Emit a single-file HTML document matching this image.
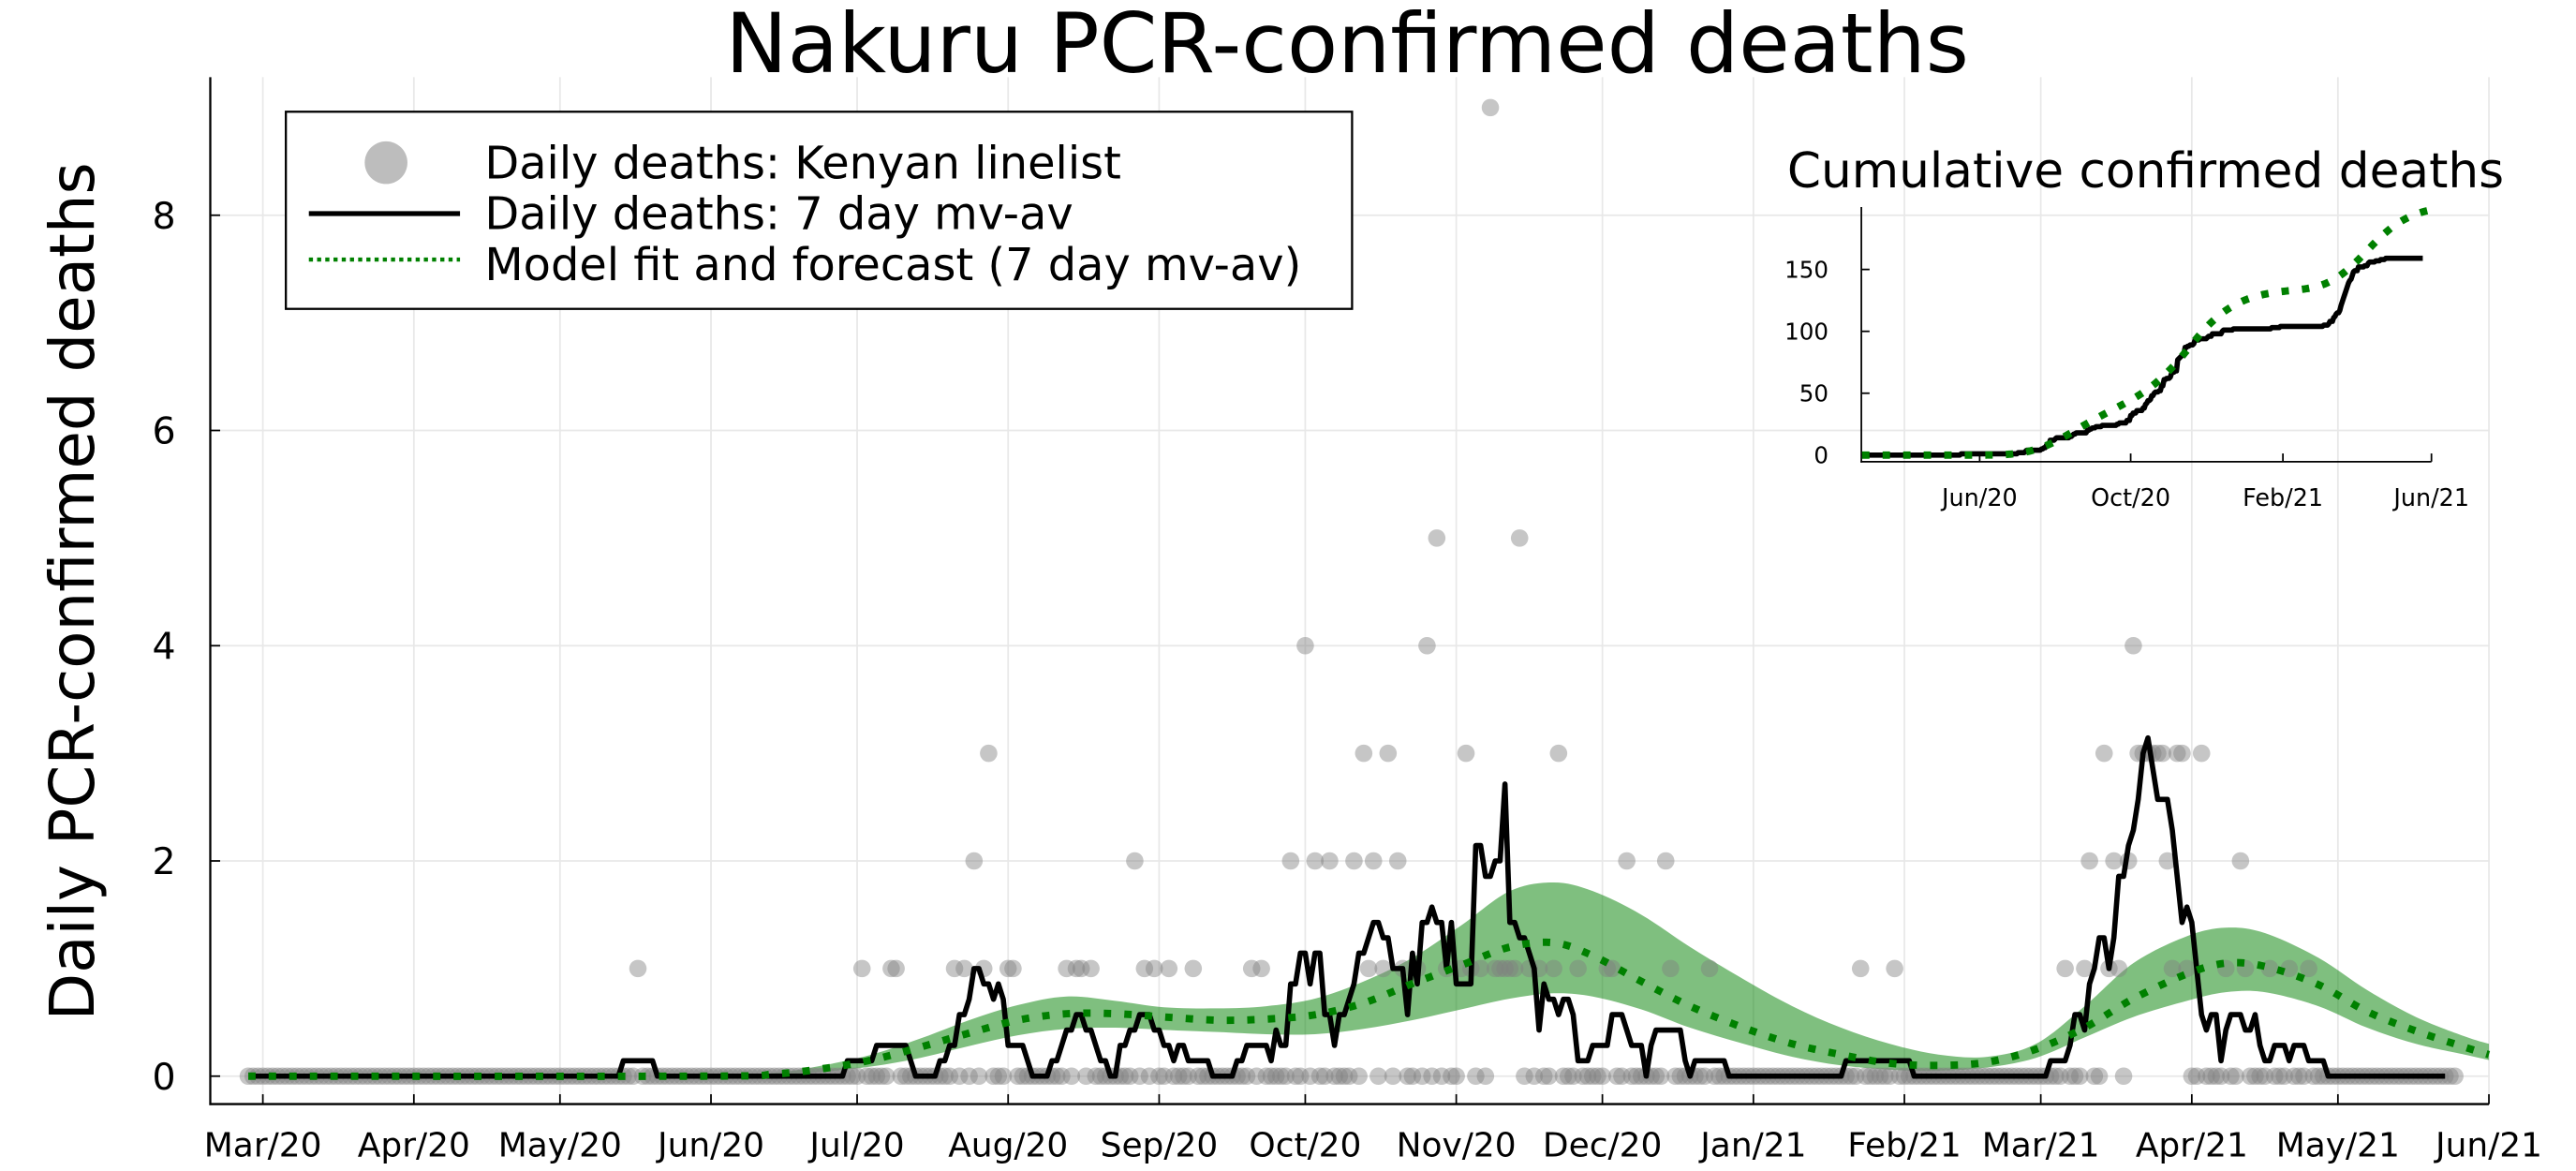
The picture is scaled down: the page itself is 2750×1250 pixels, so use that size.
<!DOCTYPE html>
<html><head><meta charset="utf-8">
<style>
html,body{margin:0;padding:0;background:#fff;}
svg{display:block;font-family:"DejaVu Sans","Liberation Sans",sans-serif;}
</style></head>
<body>
<svg id="chart" width="2750" height="1250" viewBox="0 0 1568 712.73" xmlns="http://www.w3.org/2000/svg">
<rect x="0" y="0" width="1568" height="712.73" fill="#fff"/>
<text x="820" y="44" font-size="50.5" text-anchor="middle">Nakuru PCR-confirmed deaths</text>
<text transform="translate(57,360) rotate(-90)" font-size="37.5" text-anchor="middle">Daily PCR-confirmed deaths</text>
<g id="grid"></g>
<g id="band"></g>
<g id="dots"></g>
<g id="lines"></g>
<g id="axes"></g>
<g id="legend">
  <rect x="174" y="68" width="649" height="120" fill="#fff" stroke="#000" stroke-width="1.3"/>
  <circle cx="235" cy="99" r="13" fill="#bdbdbd"/>
  <text x="295" y="108.5" font-size="27.3">Daily deaths: Kenyan linelist</text>
  <line x1="188" y1="130" x2="280" y2="130" stroke="#000" stroke-width="3"/>
  <text x="295" y="139.5" font-size="27.3">Daily deaths: 7 day mv-av</text>
  <line x1="188" y1="158" x2="280" y2="158" stroke="#008000" stroke-width="2.5" stroke-dasharray="2.5 2.5"/>
  <text x="295" y="170.5" font-size="27.3">Model fit and forecast (7 day mv-av)</text>
</g>
<g id="inset">
  <text x="1306" y="114" font-size="29.5" text-anchor="middle">Cumulative confirmed deaths</text>
</g>
</svg>
<script>
// ---- data (day offsets from 1 Mar 2020) ----
const monthDays = [0,31,61,92,122,153,184,214,245,275,306,337,365,396,426,457];
const monthLabels = ["Mar/20","Apr/20","May/20","Jun/20","Jul/20","Aug/20","Sep/20","Oct/20","Nov/20","Dec/20","Jan/21","Feb/21","Mar/21","Apr/21","May/21","Jun/21"];
const yTicks = [0,2,4,6,8];
const firstDay = -3;
const lastDay = 450;
const nzDays = [77,123,129,130,142,144,146,148,149,153,154,165,167,168,170,179,181,183,186,191,203,205,211,214,216,219,224,226,227,228,230,231,233,234,237,239,241,243,246,247,248,250,252,253,254,255,256,257,258,260,262,265,266,270,276,277,280,288,289,297,328,335,370,374,375,378,379,380,381,383,384,385,386,387,388,389,390,391,392,393,394,395,398,403,406,407,412,416,420];
const nzVals = [1,1,1,1,1,1,2,1,3,1,1,1,1,1,1,2,1,1,1,1,1,1,2,4,2,2,2,3,1,2,1,3,2,1,1,4,5,1,1,3,1,1,9,1,1,1,1,1,5,1,1,1,3,1,1,1,2,2,1,1,1,1,1,1,2,3,1,2,1,2,4,3,3,3,3,3,3,2,1,3,3,1,3,1,2,1,1,1,1];
const modelDays = [-3,90,105,115,125,135,145,155,165,175,185,196,206,216,226,236,246,256,265,273,283,293,304,314,324,334,344,354,364,374,384,395,403,411,422,432,442,452,457];
const modelMean = [0,0,0.02,0.07,0.15,0.27,0.4,0.52,0.58,0.58,0.55,0.52,0.53,0.57,0.68,0.86,1.03,1.2,1.24,1.12,0.88,0.65,0.45,0.3,0.2,0.12,0.1,0.13,0.25,0.45,0.72,0.95,1.05,1.02,0.85,0.6,0.42,0.27,0.2];
const modelHi = [0,0,0.03,0.1,0.2,0.35,0.52,0.66,0.74,0.7,0.64,0.63,0.65,0.72,0.88,1.1,1.4,1.72,1.8,1.72,1.5,1.2,0.9,0.65,0.45,0.3,0.2,0.18,0.3,0.65,1.05,1.3,1.38,1.33,1.1,0.8,0.55,0.37,0.3];
const modelLo = [0,0,0.01,0.04,0.09,0.17,0.28,0.38,0.44,0.45,0.43,0.41,0.39,0.39,0.44,0.52,0.62,0.72,0.77,0.74,0.62,0.45,0.3,0.18,0.1,0.06,0.05,0.08,0.17,0.36,0.55,0.7,0.78,0.78,0.65,0.45,0.3,0.2,0.15];
const insetYTicks = [0,50,100,150];
const insetXDays = [92,214,337,457];
const insetXLabels = ["Jun/20","Oct/20","Feb/21","Jun/21"];

// ---- axis functions ----
const NS = "http://www.w3.org/2000/svg";
const X0 = 160, XPD = (1515-160)/457;
const Y0 = 655, YPU = 65.5;
const xs = d => X0 + d*XPD;
const ys = v => Y0 - v*YPU;
const IX0 = 1135.7, IXPD = (1480-1205)/365;
const IY0 = 277, IYPU = (277-164)/150;
const ixs = d => IX0 + d*IXPD;
const iys = v => IY0 - v*IYPU;

function mk(tag, attrs, parent){
  const e = document.createElementNS(NS, tag);
  for (const k in attrs) e.setAttribute(k, attrs[k]);
  parent.appendChild(e);
  return e;
}
function smoothPath(pts){
  let d = "M"+pts[0][0].toFixed(2)+","+pts[0][1].toFixed(2);
  for (let i=0;i<pts.length-1;i++){
    const p0=pts[Math.max(0,i-1)], p1=pts[i], p2=pts[i+1], p3=pts[Math.min(pts.length-1,i+2)];
    const c1=[p1[0]+(p2[0]-p0[0])/6, p1[1]+(p2[1]-p0[1])/6];
    const c2=[p2[0]-(p3[0]-p1[0])/6, p2[1]-(p3[1]-p1[1])/6];
    d += "C"+c1[0].toFixed(2)+","+c1[1].toFixed(2)+" "+c2[0].toFixed(2)+","+c2[1].toFixed(2)+" "+p2[0].toFixed(2)+","+p2[1].toFixed(2);
  }
  return d;
}

// daily series
const daily = {};
for (let d=firstDay; d<=lastDay; d++) daily[d]=0;
nzDays.forEach((d,i)=>{ daily[d]=nzVals[i]; });
const mvDays=[], mvVals=[];
for (let d=firstDay+1; d<=lastDay-2; d++){
  let s=0; for (let k=-3;k<=3;k++) s += (daily[d+k]||0);
  mvDays.push(d); mvVals.push(s/7);
}
const cumDays=[], cumVals=[]; let acc=0;
for (let d=firstDay; d<=lastDay; d++){ acc+=daily[d]; cumDays.push(d); cumVals.push(acc); }
function interp(arrX, arrY, x){
  for (let i=0;i<arrX.length-1;i++){ if (x>=arrX[i] && x<=arrX[i+1]) return arrY[i]+(arrY[i+1]-arrY[i])*(x-arrX[i])/(arrX[i+1]-arrX[i]); }
  return arrY[arrY.length-1];
}
const mcDays=[], mcVals=[]; let macc=0;
for (let d=modelDays[0]; d<=modelDays[modelDays.length-1]; d++){ macc+=interp(modelDays,modelMean,d); mcDays.push(d); mcVals.push(macc); }

// grid
const grid = document.getElementById('grid');
monthDays.forEach((d,i)=>{
  const g = mk('line',{x1:xs(d),x2:xs(d),y1:47,y2:672,stroke:'#e8e8e8','stroke-width':1},grid);
  
  
});
yTicks.forEach(v=>{
  const g = mk('line',{x1:128,x2:1515,y1:ys(v),y2:ys(v),stroke:'#e8e8e8','stroke-width':1},grid);
  
  
});

// band
const band = document.getElementById('band');
const up = modelDays.map((d,i)=>[xs(d),ys(modelHi[i])]);
const lo = modelDays.map((d,i)=>[xs(d),ys(modelLo[i])]).reverse();
const bp = smoothPath(up) + smoothPath(lo).replace(/^M/,'L') + 'Z';
const bandEl = mk('path',{d:bp,fill:'#008000','fill-opacity':0.5,stroke:'none'},band);



// dots
const dots = document.getElementById('dots');
for (let d=firstDay; d<=lastDay; d++){
  const c = mk('circle',{cx:xs(d).toFixed(2),cy:ys(daily[d]).toFixed(2),r:5.3,fill:'#808080','fill-opacity':0.45},dots);
  
  
}

// lines
const lines = document.getElementById('lines');
const mvPath = mk('path',{d:'M'+mvDays.map((d,i)=>xs(d).toFixed(2)+','+ys(mvVals[i]).toFixed(2)).join('L'),fill:'none',stroke:'#000','stroke-width':3.2,'stroke-linejoin':'round'},lines);


const mPath = mk('path',{d:smoothPath(modelDays.map((d,i)=>[xs(d),ys(modelMean[i])])),fill:'none',stroke:'#008000','stroke-width':4.5,'stroke-dasharray':'4.5 8'},lines);



// axes
const axes = document.getElementById('axes');
const la = mk('line',{x1:128,x2:128,y1:47,y2:672.6,stroke:'#000','stroke-width':1.3},axes);


const ba = mk('line',{x1:127.4,x2:1515,y1:672,y2:672,stroke:'#000','stroke-width':1.3},axes);


monthDays.forEach((d,i)=>{
  const t = mk('line',{x1:xs(d),x2:xs(d),y1:672,y2:666,stroke:'#000','stroke-width':1},axes);
  
  
  const l = mk('text',{x:xs(d),y:704,'font-size':20.5,'text-anchor':'middle'},axes);
  l.textContent = monthLabels[i];
  
  
});
yTicks.forEach(v=>{
  const t = mk('line',{x1:128,x2:134,y1:ys(v),y2:ys(v),stroke:'#000','stroke-width':1},axes);
  
  
  const l = mk('text',{x:107,y:ys(v)+8,'font-size':22.5,'text-anchor':'end'},axes);
  l.textContent = v;
  
  
});

// inset
const inset = document.getElementById('inset');
const iya = mk('line',{x1:1133,x2:1133,y1:126,y2:281.5,stroke:'#000','stroke-width':1},inset);


const ixa = mk('line',{x1:1132.5,x2:1480,y1:281,y2:281,stroke:'#000','stroke-width':1},inset);


insetYTicks.forEach(v=>{
  const t = mk('line',{x1:1133,x2:1138,y1:iys(v),y2:iys(v),stroke:'#000','stroke-width':1},inset);
  
  
  const l = mk('text',{x:1113,y:iys(v)+5,'font-size':14,'text-anchor':'end'},inset);
  l.textContent = v;
  
  
});
insetXDays.forEach((d,i)=>{
  const t = mk('line',{x1:ixs(d),x2:ixs(d),y1:281,y2:276,stroke:'#000','stroke-width':1},inset);
  
  
  const l = mk('text',{x:ixs(d),y:308,'font-size':14.5,'text-anchor':'middle'},inset);
  l.textContent = insetXLabels[i];
  
  
});
const icum = mk('path',{d:'M'+cumDays.map((d,i)=>ixs(d).toFixed(2)+','+iys(cumVals[i]).toFixed(2)).join('L'),fill:'none',stroke:'#000','stroke-width':3.2,'stroke-linejoin':'round'},inset);


const imod = mk('path',{d:'M'+mcDays.map((d,i)=>ixs(d).toFixed(2)+','+iys(mcVals[i]).toFixed(2)).join('L'),fill:'none',stroke:'#008000','stroke-width':4.5,'stroke-dasharray':'4.5 8'},inset);


</script>
</body></html>
